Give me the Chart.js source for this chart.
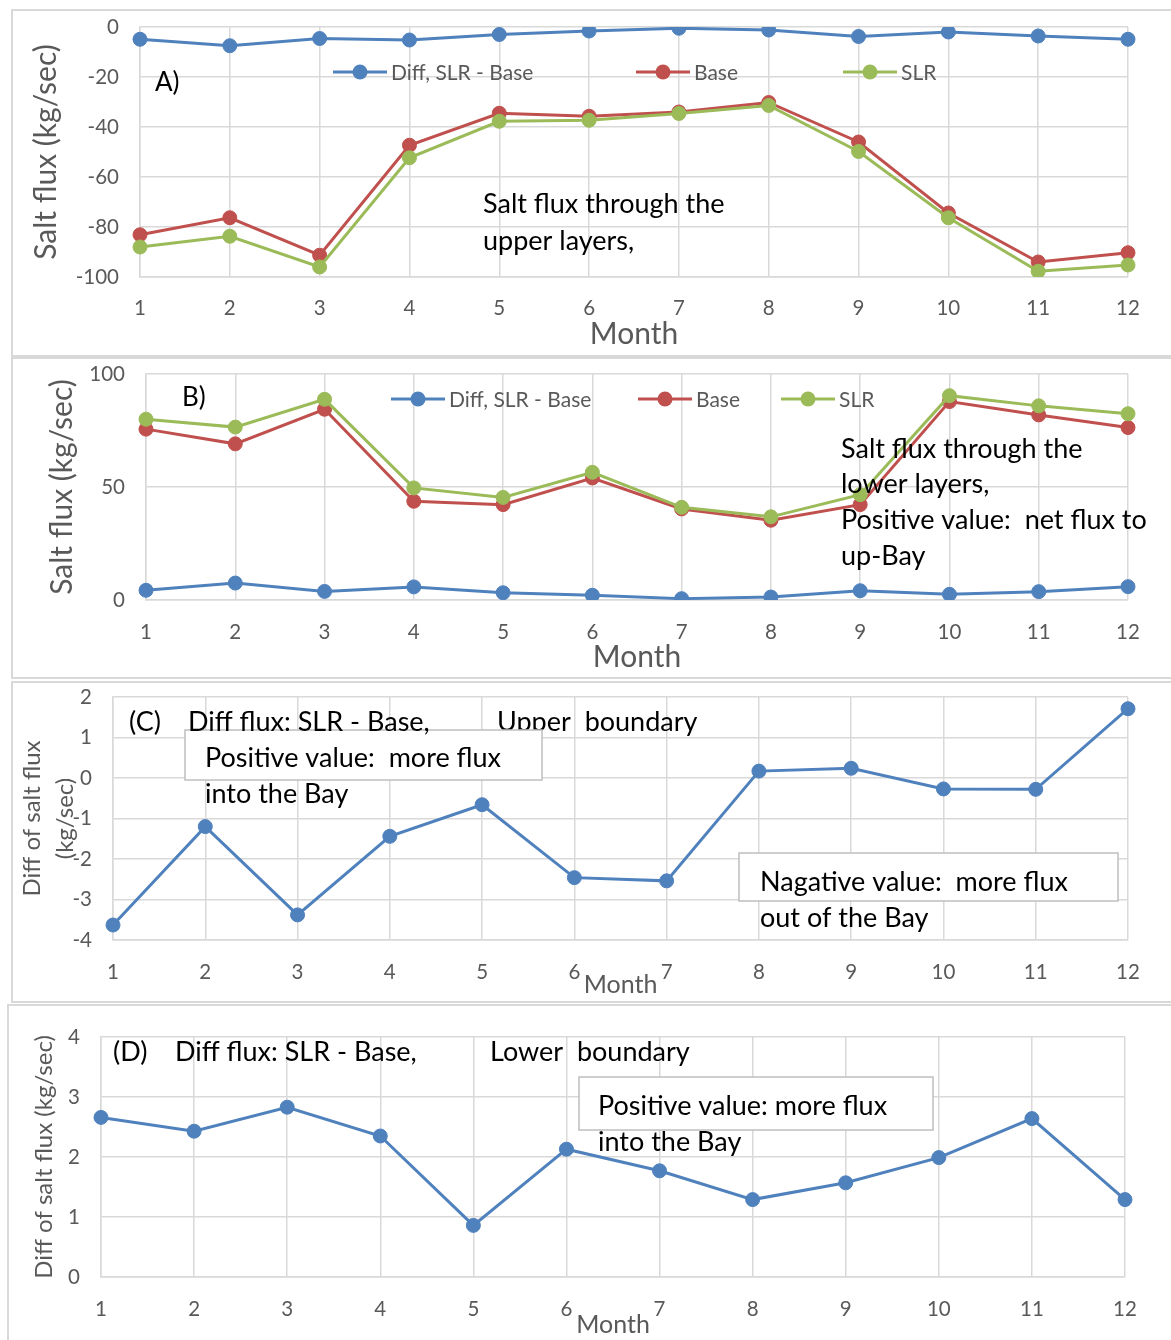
<!DOCTYPE html>
<html>
<head>
<meta charset="utf-8">
<script src="https://cdn.jsdelivr.net/npm/chart.js@4.4.1/dist/chart.umd.min.js"></script>
<style>
  html, body { margin: 0; padding: 0; background: #fff; }
  #page { position: relative; width: 1171px; height: 1340px; overflow: hidden; background: #fff; }
  .frame { position: absolute; border: 2px solid #d9d9d9; box-sizing: border-box; }
  canvas { position: absolute; left: 0; }
</style>
</head>
<body>
<div id="page">
  <div class="frame" style="left:11px; top:9px; width:1200px; height:348px;"></div>
  <div class="frame" style="left:11px; top:357px; width:1200px; height:322px;"></div>
  <div class="frame" style="left:11px; top:681px; width:1200px; height:322px;"></div>
  <div class="frame" style="left:7px; top:1004px; width:1200px; height:400px;"></div>
  <canvas id="panelA" width="1171" height="357" style="top:0px"></canvas>
  <canvas id="panelB" width="1171" height="323" style="top:357px"></canvas>
  <canvas id="panelC" width="1171" height="323" style="top:680px"></canvas>
  <canvas id="panelD" width="1171" height="337" style="top:1003px"></canvas>
</div>
<script>
// Months on the category axis
const months = ['1', '2', '3', '4', '5', '6', '7', '8', '9', '10', '11', '12'];

// A) salt flux through the upper layers (kg/sec)
const upperDiff = [-4.9, -7.5, -4.6, -5.2, -3.0, -1.6, -0.5, -1.2, -3.8, -2.0, -3.6, -4.9];
const upperBase = [-83.1, -76.3, -91.3, -47.3, -34.5, -35.7, -34.0, -30.2, -46.0, -74.4, -94.0, -90.3];
const upperSLR  = [-88.0, -83.7, -96.0, -52.3, -37.7, -37.3, -34.6, -31.4, -49.8, -76.3, -97.7, -95.2];

// B) salt flux through the lower layers (kg/sec)
const lowerDiff = [4.3, 7.5, 3.8, 5.8, 3.2, 2.1, 0.6, 1.3, 4.1, 2.5, 3.7, 5.9];
const lowerBase = [75.6, 69.1, 84.4, 43.7, 42.2, 54.0, 40.3, 35.3, 42.2, 87.8, 81.9, 76.3];
const lowerSLR  = [80.0, 76.5, 88.8, 49.6, 45.4, 56.5, 41.0, 36.8, 46.6, 90.4, 85.9, 82.4];

// (C) and (D) SLR - Base difference at the upper and lower boundary (kg/sec)
const upperBoundaryDiff = [-3.63, -1.20, -3.38, -1.44, -0.66, -2.46, -2.54, 0.17, 0.24, -0.27, -0.28, 1.71];
const lowerBoundaryDiff = [2.66, 2.43, 2.83, 2.35, 0.86, 2.13, 1.77, 1.29, 1.57, 1.99, 2.64, 1.29];

// Series names
const seriesNames = ['Diff, SLR - Base', 'Base', 'SLR'];

const BLUE = '#4f81bd', RED = '#c0504d', GREEN = '#9bbb59';
const GRID = '#d9d9d9', TICK = '#595959';
const FONT = 'Lato, "Open Sans", sans-serif';
const NOTE_SIZE = 27;

// Legend drawn inside the plot: a short line with a marker, then the name
function inlineLegend(y, centers) {
  return {
    id: 'inlineLegend',
    afterDatasetsDraw(chart) {
      const ctx = chart.ctx;
      ctx.save();
      ctx.font = '21px ' + FONT;
      ctx.textBaseline = 'middle';
      ctx.textAlign = 'left';
      centers.forEach((cx, i) => {
        const ds = chart.data.datasets[i];
        ctx.strokeStyle = ds.borderColor;
        ctx.lineWidth = 3;
        ctx.beginPath();
        ctx.moveTo(cx - 27, y);
        ctx.lineTo(cx + 27, y);
        ctx.stroke();
        ctx.fillStyle = ds.borderColor;
        ctx.beginPath();
        ctx.arc(cx, y, 7.5, 0, Math.PI * 2);
        ctx.fill();
        ctx.fillStyle = TICK;
        ctx.fillText(ds.label, cx + 31, y + 1);
      });
      ctx.restore();
    }
  };
}

// Free text and white text boxes placed over the plot, in list order
function notes(items) {
  return {
    id: 'notes',
    afterDatasetsDraw(chart) {
      const ctx = chart.ctx;
      items.forEach(it => {
        ctx.save();
        if (it.box) {
          const [x, y, w, h] = it.box;
          ctx.fillStyle = '#ffffff';
          ctx.fillRect(x, y, w, h);
          ctx.strokeStyle = '#bfbfbf';
          ctx.lineWidth = 1.5;
          ctx.strokeRect(x, y, w, h);
        } else {
          ctx.font = (it.size || NOTE_SIZE) + 'px ' + FONT;
          ctx.fillStyle = '#000';
          ctx.textBaseline = 'middle';
          ctx.textAlign = 'left';
          ctx.fillText(it.text, it.x, it.y);
        }
        ctx.restore();
      });
    }
  };
}

function lineSet(label, data, color, order) {
  return {
    label, data, order,
    borderColor: color, backgroundColor: color,
    pointBackgroundColor: color, pointBorderColor: color,
    borderWidth: 3, pointRadius: 7, pointBorderWidth: 1, tension: 0
  };
}

function panel(id, p) {
  new Chart(document.getElementById(id), {
    type: 'line',
    data: { labels: months, datasets: p.datasets },
    options: {
      responsive: false,
      animation: false,
      devicePixelRatio: 1,
      events: [],
      layout: { padding: { left: 0, right: p.right, top: p.top, bottom: 0 } },
      plugins: { legend: { display: false }, tooltip: { enabled: false } },
      scales: {
        x: {
          grid: { color: GRID, lineWidth: 1.5, drawTicks: false },
          border: { color: GRID, width: 1.5 },
          ticks: { color: TICK, font: { family: FONT, size: 20.5 }, padding: p.xTickPad, autoSkip: false, maxRotation: 0 },
          title: { display: true, text: 'Month', color: TICK, font: { family: FONT, size: p.monthSize }, padding: { top: 0, bottom: p.monthPad } },
          afterFit(s) { s.height = p.xHeight; }
        },
        y: {
          min: p.min, max: p.max,
          grid: { color: GRID, lineWidth: 1.5, drawTicks: false },
          border: { color: GRID, width: 1.5 },
          ticks: { stepSize: p.step, color: TICK, font: { family: FONT, size: 20.5 }, padding: 21 },
          title: { display: true, text: p.yTitle, color: TICK, font: { family: FONT, size: p.yTitleSize, lineHeight: p.yTitleLH }, padding: { top: p.yTitlePad, bottom: 0 } },
          afterFit(s) {
            s.width = p.yWidth;
            // the plot area edges are set by the layout padding alone
            s.paddingTop = 0;
            s.paddingBottom = 0;
          }
        }
      }
    },
    plugins: p.plugins
  });
}

// A) upper layers
panel('panelA', {
  datasets: [
    lineSet(seriesNames[0], upperDiff, BLUE, 2),
    lineSet(seriesNames[1], upperBase, RED, 1),
    lineSet(seriesNames[2], upperSLR, GREEN, 0)
  ],
  min: -100, max: 0, step: 20,
  yWidth: 140, right: 43, top: 27, xHeight: 80, xTickPad: 19,
  monthSize: 30, monthPad: 5,
  yTitle: 'Salt flux (kg/sec)', yTitleSize: 30, yTitleLH: 1.2, yTitlePad: 28,
  plugins: [
    inlineLegend(72, [360, 663, 870]),
    notes([
      { text: 'A)', x: 155, y: 83, size: 26 },
      { text: 'Salt flux through the', x: 483, y: 204 },
      { text: 'upper layers,', x: 483, y: 241 }
    ])
  ]
});

// B) lower layers
panel('panelB', {
  datasets: [
    lineSet(seriesNames[0], lowerDiff, BLUE, 2),
    lineSet(seriesNames[1], lowerBase, RED, 1),
    lineSet(seriesNames[2], lowerSLR, GREEN, 0)
  ],
  min: 0, max: 100, step: 50,
  yWidth: 146, right: 43, top: 17, xHeight: 80, xTickPad: 20,
  monthSize: 30, monthPad: 5,
  yTitle: 'Salt flux (kg/sec)', yTitleSize: 30, yTitleLH: 1.2, yTitlePad: 44,
  plugins: [
    inlineLegend(42, [418, 665, 808]),
    notes([
      { text: 'B)', x: 182, y: 41, size: 26 },
      { text: 'Salt flux through the', x: 841, y: 92 },
      { text: 'lower layers,', x: 841, y: 127 },
      { text: 'Positive value:  net flux to', x: 841, y: 163 },
      { text: 'up-Bay', x: 841, y: 199 }
    ])
  ]
});

// (C) upper boundary difference
panel('panelC', {
  datasets: [lineSet(seriesNames[0], upperBoundaryDiff, BLUE, 0)],
  min: -4, max: 2, step: 1,
  yWidth: 113, right: 43, top: 17, xHeight: 63, xTickPad: 20,
  monthSize: 25, monthPad: 3,
  yTitle: ['Diff of salt flux', '(kg/sec)'], yTitleSize: 24, yTitleLH: 1.375, yTitlePad: 16,
  plugins: [
    notes([
      { text: 'Upper  boundary', x: 497, y: 42 },
      { box: [185, 50, 357, 50] },
      { text: '(C)', x: 129, y: 42 },
      { text: 'Diff flux: SLR - Base,', x: 188, y: 42 },
      { text: 'Positive value:  more flux', x: 205, y: 78 },
      { text: 'into the Bay', x: 205, y: 114 },
      { box: [739, 173, 379, 48] },
      { text: 'Nagative value:  more flux', x: 760, y: 202 },
      { text: 'out of the Bay', x: 760, y: 238 }
    ])
  ]
});

// (D) lower boundary difference
panel('panelD', {
  datasets: [lineSet(seriesNames[0], lowerBoundaryDiff, BLUE, 0)],
  min: 0, max: 4, step: 1,
  yWidth: 101, right: 46, top: 34, xHeight: 63, xTickPad: 20,
  monthSize: 25, monthPad: 0,
  yTitle: 'Diff of salt flux (kg/sec)', yTitleSize: 24, yTitleLH: 1.2, yTitlePad: 30,
  plugins: [
    notes([
      { text: '(D)', x: 113, y: 49 },
      { text: 'Diff flux: SLR - Base,', x: 175, y: 49 },
      { text: 'Lower  boundary', x: 490, y: 49 },
      { box: [579, 74, 354, 53] },
      { text: 'Positive value: more flux', x: 598, y: 103 },
      { text: 'into the Bay', x: 598, y: 139 }
    ])
  ]
});
</script>
</body>
</html>
